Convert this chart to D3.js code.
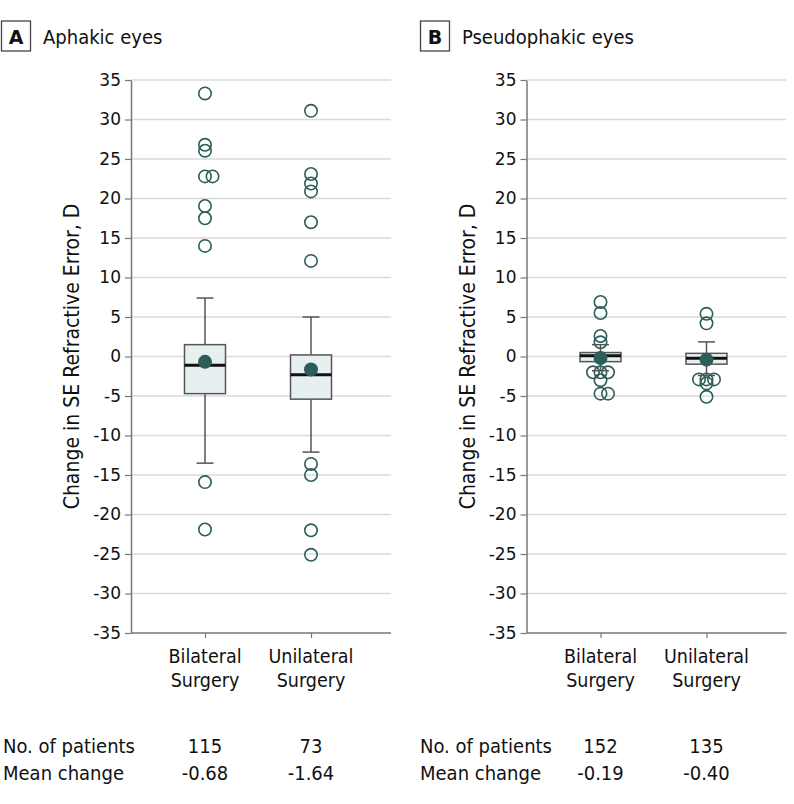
<!DOCTYPE html>
<html>
<head>
<meta charset="utf-8">
<script src="https://cdn.jsdelivr.net/npm/d3@7/dist/d3.min.js"></script>
<style>
    body { margin: 0; background: #fff; }
    svg text { font-family: "DejaVu Sans Condensed", "DejaVu Sans", sans-serif; fill: #111; }
</style>
</head>
<body>
<div id="chart"></div>
<script>
/* globals d3 */

// Categories and tick labels
var categories = ['Bilateral Surgery', 'Unilateral Surgery'];
var yTicks = [35, 30, 25, 20, 15, 10, 5, 0, -5, -10, -15, -20, -25, -30, -35];

// A: aphakic eyes
var aphakicQ1 = [-4.7, -5.4];
var aphakicMedian = [-1.1, -2.3];
var aphakicQ3 = [1.5, 0.2];
var aphakicWhiskerLow = [-13.5, -12.1];
var aphakicWhiskerHigh = [7.4, 5.0];
var aphakicMean = [-0.68, -1.64];
var aphakicPatients = [115, 73];
var aphakicOutliers = [
    [33.3, 26.8, 26.05, 22.8, 22.8, 19.05, 17.5, 14.0, -15.9, -21.9],
    [31.1, 23.1, 21.9, 20.9, 17.0, 12.1, -13.6, -15.0, -22.0, -25.1]
];

// B: pseudophakic eyes
var pseudoQ1 = [-0.65, -0.97];
var pseudoMedian = [0.1, -0.22];
var pseudoQ3 = [0.5, 0.4];
var pseudoWhiskerLow = [-1.8, -2.4];
var pseudoWhiskerHigh = [1.5, 1.85];
var pseudoMean = [-0.19, -0.40];
var pseudoPatients = [152, 135];
var pseudoOutliers = [
    [6.9, 5.5, 2.6, 1.8, -2.0, -2.0, -2.0, -3.0, -4.7, -4.7],
    [5.4, 4.2, -2.9, -2.9, -2.9, -3.4, -5.1]
];

var panels = [
    {letter: 'A', title: 'Aphakic eyes', left: 131, headerX: 1, tableX: 3,
     q1: aphakicQ1, median: aphakicMedian, q3: aphakicQ3, lo: aphakicWhiskerLow,
     hi: aphakicWhiskerHigh, mean: aphakicMean, n: aphakicPatients, outliers: aphakicOutliers},
    {letter: 'B', title: 'Pseudophakic eyes', left: 526.5, headerX: 420, tableX: 420,
     q1: pseudoQ1, median: pseudoMedian, q3: pseudoQ3, lo: pseudoWhiskerLow,
     hi: pseudoWhiskerHigh, mean: pseudoMean, n: pseudoPatients, outliers: pseudoOutliers}
];

var teal = '#2c5d58';
var plotWidth = 260;
var boxWidth = 41;
var capWidth = 17;
var dodge = 7.5;

var y = d3.scaleLinear().domain([-35, 35]).range([633, 80]);
var x = d3.scalePoint().domain(categories).range([74, 180]);

var svg = d3.select('#chart').append('svg')
    .attr('width', 794)
    .attr('height', 804);

panels.forEach(function(p) {

    // Panel header
    var head = svg.append('g').attr('transform', 'translate(' + p.headerX + ',0)');
    head.append('rect')
        .attr('x', 0.5).attr('y', 21)
        .attr('width', 29).attr('height', 30)
        .attr('fill', 'none')
        .attr('stroke', '#444')
        .attr('stroke-width', 1.3);
    head.append('text')
        .attr('x', 15).attr('y', 43.5)
        .style('text-anchor', 'middle')
        .style('font-family', '"DejaVu Sans", sans-serif')
        .style('font-weight', 'bold')
        .style('font-size', '19px')
        .text(p.letter);
    head.append('text')
        .attr('x', 42).attr('y', 44)
        .style('font-size', '20px')
        .text(p.title);

    var g = svg.append('g').attr('transform', 'translate(' + p.left + ',0)');

    // Gridlines
    g.selectAll('.grid')
        .data(yTicks.filter(function(d) { return d > -35; }))
        .enter().append('line')
        .attr('class', 'grid')
        .attr('x1', 0).attr('x2', plotWidth)
        .attr('y1', function(d) { return y(d); })
        .attr('y2', function(d) { return y(d); })
        .attr('stroke', '#dadada')
        .attr('stroke-width', 1.5);

    // Y axis
    var yAxis = g.append('g')
        .attr('class', 'y axis')
        .call(d3.axisLeft(y).tickValues(yTicks).tickSize(6).tickSizeOuter(0).tickPadding(4)
            .tickFormat(function(d) { return d < 0 ? '-' + Math.abs(d) : d; }));
    yAxis.select('.domain').attr('stroke', '#777').attr('stroke-width', 1.5);
    yAxis.selectAll('.tick line').attr('stroke', '#777').attr('stroke-width', 1.2);
    yAxis.selectAll('.tick text')
        .style('font-family', '"DejaVu Sans", sans-serif')
        .style('font-size', '17px')
        .attr('fill', '#111');

    // Bottom axis
    g.append('line')
        .attr('x1', 0).attr('x2', plotWidth)
        .attr('y1', y(-35)).attr('y2', y(-35))
        .attr('stroke', '#777')
        .attr('stroke-width', 1.5);
    var xAxis = g.append('g')
        .attr('transform', 'translate(0,' + y(-35) + ')')
        .call(d3.axisBottom(x).tickSize(5).tickSizeOuter(0).tickFormat(''));
    xAxis.select('.domain').remove();
    xAxis.selectAll('.tick line').attr('stroke', '#777').attr('stroke-width', 1.2);

    var labels = g.selectAll('.catlabel')
        .data(categories)
        .enter().append('text')
        .attr('class', 'catlabel')
        .style('text-anchor', 'middle')
        .style('font-size', '19.5px');
    labels.append('tspan')
        .attr('x', function(d) { return x(d); })
        .attr('y', 663)
        .text(function(d) { return d.split(' ')[0]; });
    labels.append('tspan')
        .attr('x', function(d) { return x(d); })
        .attr('y', 687)
        .text(function(d) { return d.split(' ')[1]; });

    // Y axis title
    g.append('text')
        .attr('transform', 'translate(-59,' + ((y(35) + y(-35)) / 2) + ') rotate(-90)')
        .attr('dy', '0.35em')
        .style('text-anchor', 'middle')
        .style('font-size', '21px')
        .text('Change in SE Refractive Error, D');

    categories.forEach(function(cat, i) {
        var cx = x(cat);

        // Outliers, side by side where values repeat
        var seen = {};
        var offsets = [0, dodge, -dodge, 2 * dodge, -2 * dodge];
        var pts = p.outliers[i].map(function(v) {
            var k = seen[v] || 0;
            seen[v] = k + 1;
            return {v: v, dx: offsets[k]};
        });
        g.selectAll('.out' + i)
            .data(pts)
            .enter().append('circle')
            .attr('class', 'out' + i)
            .attr('cx', function(d) { return cx + d.dx; })
            .attr('cy', function(d) { return y(d.v); })
            .attr('r', 6.2)
            .attr('fill', 'none')
            .attr('stroke', teal)
            .attr('stroke-width', 1.6);

        // Whiskers
        g.append('line')
            .attr('x1', cx).attr('x2', cx)
            .attr('y1', y(p.lo[i])).attr('y2', y(p.hi[i]))
            .attr('stroke', '#555').attr('stroke-width', 1.5);
        [p.lo[i], p.hi[i]].forEach(function(v) {
            g.append('line')
                .attr('x1', cx - capWidth / 2).attr('x2', cx + capWidth / 2)
                .attr('y1', y(v)).attr('y2', y(v))
                .attr('stroke', '#555').attr('stroke-width', 1.5);
        });

        // Box
        g.append('rect')
            .attr('x', cx - boxWidth / 2)
            .attr('y', y(p.q3[i]))
            .attr('width', boxWidth)
            .attr('height', y(p.q1[i]) - y(p.q3[i]))
            .attr('fill', '#e7f0f0')
            .attr('stroke', '#555')
            .attr('stroke-width', 1.5);

        g.append('line')
            .attr('x1', cx - boxWidth / 2).attr('x2', cx + boxWidth / 2)
            .attr('y1', y(p.median[i])).attr('y2', y(p.median[i]))
            .attr('stroke', '#111').attr('stroke-width', 3);

        // Mean
        g.append('circle')
            .attr('cx', cx).attr('cy', y(p.mean[i]))
            .attr('r', 7)
            .attr('fill', teal);
    });

    // Table under the panel
    var rows = [
        {label: 'No. of patients', values: p.n.map(String), y: 753},
        {label: 'Mean change', values: p.mean.map(function(d) { return d.toFixed(2); }), y: 780}
    ];
    rows.forEach(function(r) {
        svg.append('text')
            .attr('x', p.tableX).attr('y', r.y)
            .style('font-size', '20px')
            .text(r.label);
        g.selectAll(null)
            .data(r.values)
            .enter().append('text')
            .attr('x', function(d, i) { return x(categories[i]); })
            .attr('y', r.y)
            .style('text-anchor', 'middle')
            .style('font-size', '20px')
            .text(function(d) { return d; });
    });
});
</script>
</body>
</html>
